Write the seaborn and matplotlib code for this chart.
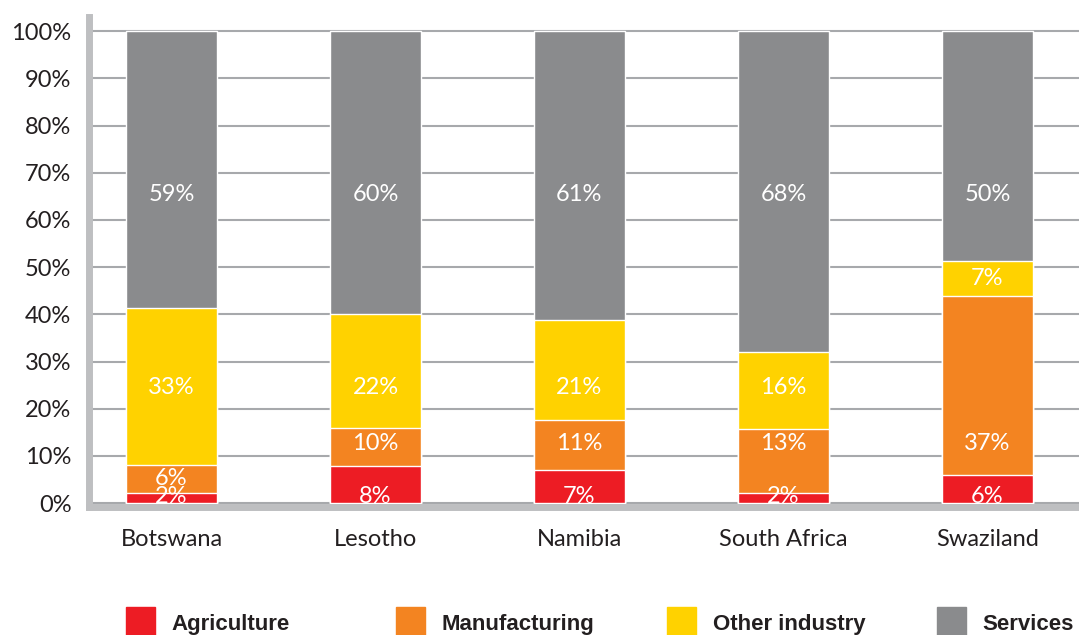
import numpy as np
import pandas as pd
import matplotlib
matplotlib.use("Agg")
import matplotlib.pyplot as plt
from matplotlib import font_manager
import seaborn as sns

# Daten (Anteile in %)
countries = ["Botswana", "Lesotho", "Namibia", "South Africa", "Swaziland"]
agriculture = [2.2, 7.9, 7.1, 2.1, 6.0]
manufacturing = [5.9, 8.1, 10.5, 13.6, 38.0]
other_industry = [33.3, 24.1, 21.2, 16.4, 7.3]
services = [58.6, 59.9, 61.2, 67.9, 48.7]

# Beschriftungen in den Balken
agriculture_lbl = [2, 8, 7, 2, 6]
manufacturing_lbl = [6, 10, 11, 13, 37]
other_industry_lbl = [33, 22, 21, 16, 7]
services_lbl = [59, 60, 61, 68, 50]

series = ["Agriculture", "Manufacturing", "Other industry", "Services"]
colors = {"Agriculture": "#ed1c24", "Manufacturing": "#f38421",
          "Other industry": "#ffd200", "Services": "#8a8b8d"}
# feste Hoehe der Wertebeschriftung je Reihe (sonst Mitte des Segments)
label_row = {"Agriculture": 1.5, "Manufacturing": 12.7,
             "Other industry": 24.6, "Services": 65.3}

df = pd.DataFrame({"Country": countries,
                   "Agriculture": agriculture,
                   "Manufacturing": manufacturing,
                   "Other industry": other_industry,
                   "Services": services})
labels = {"Agriculture": agriculture_lbl, "Manufacturing": manufacturing_lbl,
          "Other industry": other_industry_lbl, "Services": services_lbl}

cum = df[series].cumsum(axis=1)
base = cum - df[series]

sns.set_style("white")
plt.rcParams["font.family"] = ["Lato", "DejaVu Sans"]

# schmale fette Schrift fuer die Legende, falls vorhanden
installed = {f.name for f in font_manager.fontManager.ttflist}
if "Liberation Sans Narrow" in installed:
    leg_font = {"family": "Liberation Sans Narrow", "weight": "bold", "size": 19}
else:
    leg_font = {"family": "Liberation Sans", "weight": "bold", "size": 16}

fig = plt.figure(figsize=(10.79, 6.35), dpi=100)
ax = fig.add_axes([0.0829, 0.2020, 1 - 0.0829, 0.9732 - 0.2020])

# gestapelte Balken: von oben nach unten ueberlagern
handles = {}
for name in reversed(series):
    plot_df = pd.DataFrame({"Country": countries, "top": cum[name]})
    sns.barplot(data=plot_df, x="Country", y="top", color=colors[name],
                saturation=1, width=0.446, errorbar=None, ax=ax, zorder=1)
    handles[name] = plt.Rectangle((0, 0), 1, 1, color=colors[name])

# Wertebeschriftungen
for name in series:
    for i in range(len(countries)):
        lo, hi = base[name][i], cum[name][i]
        y = label_row[name]
        if not (lo <= y <= hi):
            y = (lo + hi) / 2
        ax.text(i, y, f"{labels[name][i]}%", ha="center", va="center",
                color="white", fontsize=17, zorder=2)

ax.set_xlim(-0.402, 4.449)
ax.set_ylim(-0.75, 103)
ax.set_yticks(np.arange(0, 101, 10))
ax.set_yticklabels([f"{v}%" for v in range(0, 101, 10)])
ax.set_xlabel("")
ax.set_ylabel("")

ax.yaxis.grid(True, color="#a7a9ac", linewidth=1.5)
ax.set_axisbelow(True)
for s in ["top", "right"]:
    ax.spines[s].set_visible(False)
for s in ["left", "bottom"]:
    ax.spines[s].set_color("#bebfc1")
    ax.spines[s].set_linewidth(5)
    ax.spines[s].set_zorder(2.5)
ax.tick_params(axis="both", length=0, labelsize=17, colors="#231f20")
ax.tick_params(axis="y", pad=13)
ax.tick_params(axis="x", pad=16)

# Legende unten (wird am Bildrand abgeschnitten)
leg_x = [126, 396, 667, 937]
for name, x in zip(series, leg_x):
    leg = fig.legend([handles[name]], [name], loc="upper left",
                     bbox_to_anchor=(x / 1079, 1 - 607 / 635),
                     frameon=False, borderpad=0, borderaxespad=0,
                     handlelength=1.3, handleheight=1.75, handletextpad=0.75,
                     prop=leg_font)
    for t in leg.get_texts():
        t.set_color("#231f20")

fig.savefig("out.png", dpi=100)
